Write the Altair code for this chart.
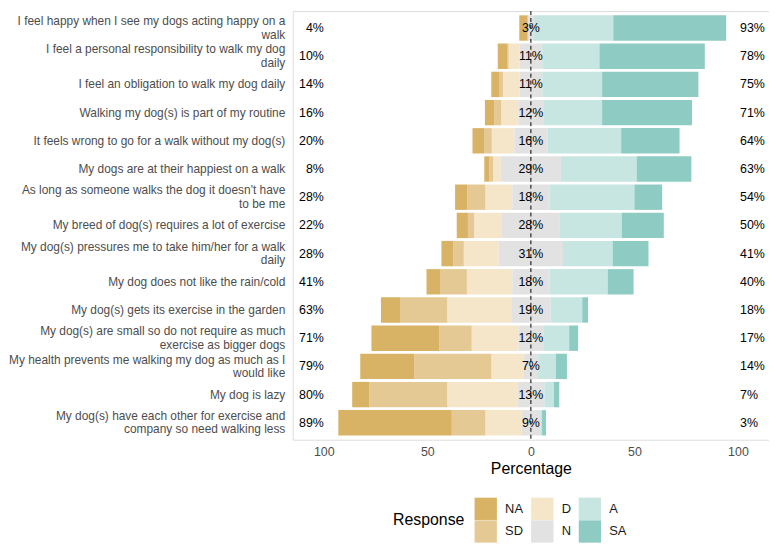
import altair as alt
import pandas as pd

items = [
    "I feel happy when I see my dogs acting happy on a|walk",
    "I feel a personal responsibility to walk my dog|daily",
    "I feel an obligation to walk my dog daily",
    "Walking my dog(s) is part of my routine",
    "It feels wrong to go for a walk without my dog(s)",
    "My dogs are at their happiest on a walk",
    "As long as someone walks the dog it doesn't have|to be me",
    "My breed of dog(s) requires a lot of exercise",
    "My dog(s) pressures me to take him/her for a walk|daily",
    "My dog does not like the rain/cold",
    "My dog(s) gets its exercise in the garden",
    "My dog(s) are small so do not require as much|exercise as bigger dogs",
    "My health prevents me walking my dog as much as I|would like",
    "My dog is lazy",
    "My dog(s) have each other for exercise and|company so need walking less",
]

pct_na = [4.1, 4.5, 3.7, 4.6, 5.6, 2.5, 5.9, 5.4, 5.7, 6.5, 9.2, 32.8, 26.1, 8.3, 54.8]
pct_sd = [0.0, 0.8, 1.9, 3.3, 3.7, 1.8, 8.7, 3.0, 5.1, 13.0, 22.8, 15.6, 37.2, 37.6, 16.2]
pct_d = [0.0, 5.2, 8.0, 8.3, 10.9, 3.7, 13.0, 13.4, 16.9, 21.9, 30.9, 22.6, 15.6, 33.9, 17.5]
pct_n = [3, 11, 11, 12, 16, 29, 18, 28, 31, 18, 19, 12, 7, 13, 9]
pct_a = [38.3, 27.6, 28.9, 28.4, 35.6, 36.6, 41.0, 29.9, 24.0, 28.1, 15.3, 12.5, 8.6, 4.6, 0.9]
pct_sa = [54.5, 50.9, 46.5, 43.4, 28.2, 26.4, 13.4, 20.3, 17.3, 12.5, 2.8, 4.3, 5.3, 2.6, 1.9]

low_labels = [4, 10, 14, 16, 20, 8, 28, 22, 28, 41, 63, 71, 79, 80, 89]
mid_labels = [3, 11, 11, 12, 16, 29, 18, 28, 31, 18, 19, 12, 7, 13, 9]
high_labels = [93, 78, 75, 71, 64, 63, 54, 50, 41, 40, 18, 17, 14, 7, 3]

responses = ["NA", "SD", "D", "N", "A", "SA"]
colors = {"NA": "#D8B365", "SD": "#E5C994", "D": "#F5E6C9",
          "N": "#E2E2E2", "A": "#C7E6E2", "SA": "#8ECBC2"}

rows = []
for i, item in enumerate(items):
    half = pct_n[i] / 2.0
    left = -half
    for resp, val in (("D", pct_d[i]), ("SD", pct_sd[i]), ("NA", pct_na[i])):
        rows.append({"item": item, "response": resp, "start": left - val, "end": left})
        left -= val
    rows.append({"item": item, "response": "N", "start": -half, "end": half})
    right = half
    for resp, val in (("A", pct_a[i]), ("SA", pct_sa[i])):
        rows.append({"item": item, "response": resp, "start": right, "end": right + val})
        right += val
seg = pd.DataFrame(rows)

labels = pd.DataFrame({
    "item": items,
    "low": [f"{v}%" for v in low_labels],
    "mid": [f"{v}%" for v in mid_labels],
    "high": [f"{v}%" for v in high_labels],
    "xl": [-100] * len(items),
    "xm": [0] * len(items),
    "xh": [101] * len(items),
})

FONT = "Liberation Sans"
xscale = alt.Scale(domain=[-115, 115], nice=False, zero=False)
yscale = alt.Scale(paddingInner=0.1, paddingOuter=0.15)
ysort = items

x_axis = alt.Axis(values=[-100, -50, 0, 50, 100], labelExpr="abs(datum.value)",
                  grid=False, ticks=False, domain=False, labelPadding=6,
                  labelFontSize=12.5, labelColor="#4d4d4d", labelFont=FONT,
                  title="Percentage", titleFontSize=16, titleFontWeight="normal",
                  titleColor="#000000", titleFont=FONT, titlePadding=3)
y_axis = alt.Axis(title=None, grid=False, ticks=False, domain=False,
                  labelPadding=8, labelFontSize=12, labelColor="#4d4d4d",
                  labelFont=FONT, labelLimit=400, labelLineHeight=13.5,
                  labelOffset={"condition": {"test": "indexof(datum.value, '|') >= 0",
                                             "value": -6.75}, "value": 0},
                  labelExpr="split(datum.label, '|')")

bars = alt.Chart(seg).mark_bar().encode(
    x=alt.X("start:Q", scale=xscale, axis=x_axis),
    x2="end:Q",
    y=alt.Y("item:N", sort=ysort, scale=yscale, axis=y_axis),
    color=alt.Color("response:N",
                    scale=alt.Scale(domain=responses,
                                    range=[colors[r] for r in responses]),
                    legend=alt.Legend(title="Response", orient="none",
                                      legendX=101, legendY=490,
                                      columns=3, titleOrient="left",
                                      titleAnchor="middle",
                                      titleFontSize=16, titleFontWeight="normal",
                                      titleColor="#000000", titleFont=FONT,
                                      titlePadding=9,
                                      labelFontSize=13, labelColor="#1a1a1a",
                                      labelFont=FONT, labelOffset=8,
                                      symbolType="square", symbolSize=506,
                                      symbolStrokeWidth=0, rowPadding=0,
                                      columnPadding=7)),
)

rule = alt.Chart(pd.DataFrame({"x": [0]})).mark_rule(
    color="black", strokeDash=[4, 3], strokeWidth=1
).encode(x=alt.X("x:Q", scale=xscale))

text_low = alt.Chart(labels).mark_text(align="right", baseline="middle",
                                       fontSize=12.5, font=FONT, color="black").encode(
    x=alt.X("xl:Q", scale=xscale), y=alt.Y("item:N", sort=ysort, scale=yscale),
    text="low:N")
text_mid = alt.Chart(labels).mark_text(align="center", baseline="middle",
                                       fontSize=12.5, font=FONT, color="black").encode(
    x=alt.X("xm:Q", scale=xscale), y=alt.Y("item:N", sort=ysort, scale=yscale),
    text="mid:N")
text_high = alt.Chart(labels).mark_text(align="left", baseline="middle",
                                        fontSize=12.5, font=FONT, color="black").encode(
    x=alt.X("xh:Q", scale=xscale), y=alt.Y("item:N", sort=ysort, scale=yscale),
    text="high:N")

chart = alt.layer(bars, rule, text_low, text_mid, text_high).properties(
    width=480, height=432, padding=0
).configure_view(stroke="#b8b8b8", strokeWidth=1).configure(font=FONT)

chart.save("out.html", embed_options={"renderer": "svg", "actions": False})
